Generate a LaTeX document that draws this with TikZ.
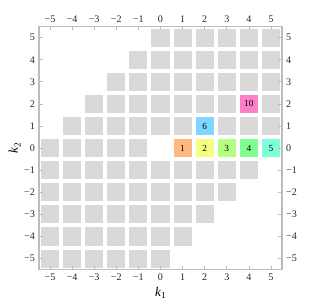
\documentclass[tikz,border=0pt]{standalone}
\usepackage{fontspec}
\setmainfont{Liberation Serif}
\definecolor{cellgray}{HTML}{D9D9D9}
\definecolor{framegray}{HTML}{BDBDBD}
\definecolor{cA}{HTML}{FFB97F}
\definecolor{cB}{HTML}{F5FF7F}
\definecolor{cC}{HTML}{B5FF7F}
\definecolor{cD}{HTML}{7FFF8F}
\definecolor{cE}{HTML}{7FFFD7}
\definecolor{cF}{HTML}{7FD7FF}
\definecolor{cJ}{HTML}{FF7FC7}
\newcommand{\ticktext}[1]{\ifnum#1<0 −\the\numexpr-#1\relax\else#1\fi}
\begin{document}
\begin{tikzpicture}[x=0.5cm,y=0.5cm,
  cell/.style={fill=cellgray,draw=none,minimum size=0.41cm,inner sep=0pt,font=\fontsize{6}{7}\selectfont},
  ticklab/.style={font=\fontsize{6.5}{7}\selectfont,inner sep=1pt,text=black!85},
  axlab/.style={font=\fontsize{8.5}{9}\selectfont}]
\useasboundingbox (-7.26,-7.15) rectangle (6.72,6.70);
% gray cells
\foreach \a in {-5,...,5}{
  \foreach \b in {-5,...,5}{
    \pgfmathtruncatemacro{\d}{\a-\b}
    \ifnum\d<6 \ifnum\d>-6
      \node[cell] (c\a\b) at (\a,\b) {};
    \fi\fi
  }
}
% empty origin cell
\node[fill=white,minimum size=0.43cm,inner sep=0pt] (origin) at (0,0) {};
% coloured cells
\node[cell,fill=cA] (n1) at (1,0) {1};
\node[cell,fill=cB] (n2) at (2,0) {2};
\node[cell,fill=cC] (n3) at (3,0) {3};
\node[cell,fill=cD] (n4) at (4,0) {4};
\node[cell,fill=cE] (n5) at (5,0) {5};
\node[cell,fill=cF] (n6) at (2,1) {6};
\node[cell,fill=cJ] (n10) at (4,2) {10};
% frame
\draw[framegray,line width=0.9pt] (-5.5,-5.5) rectangle (5.5,5.5);
\foreach \t in {-5,...,5}{
  \draw[framegray,line width=0.4pt] (\t,-5.5) -- (\t,-5.33);
  \draw[framegray,line width=0.4pt] (\t,5.5) -- (\t,5.33);
  \draw[framegray,line width=0.4pt] (-5.5,\t) -- (-5.33,\t);
  \draw[framegray,line width=0.4pt] (5.5,\t) -- (5.33,\t);
  \node[ticklab,anchor=north] (bl\t) at (\t,-5.6) {\ticktext{\t}};
  \node[ticklab,anchor=south] (tl\t) at (\t,5.6) {\ticktext{\t}};
  \node[ticklab,anchor=east] (ll\t) at (-5.6,\t) {\ticktext{\t}};
  \node[ticklab,anchor=west] (rl\t) at (5.6,\t) {\ticktext{\t}};
}
\node[axlab] (k1) at (0,-6.55) {\textit{k}\raisebox{-0.45ex}{\fontsize{6}{7}\selectfont 1}};
\node[axlab,rotate=90] (k2) at (-6.6,0) {\textit{k}\raisebox{-0.45ex}{\fontsize{6}{7}\selectfont 2}};
\end{tikzpicture}
\end{document}
